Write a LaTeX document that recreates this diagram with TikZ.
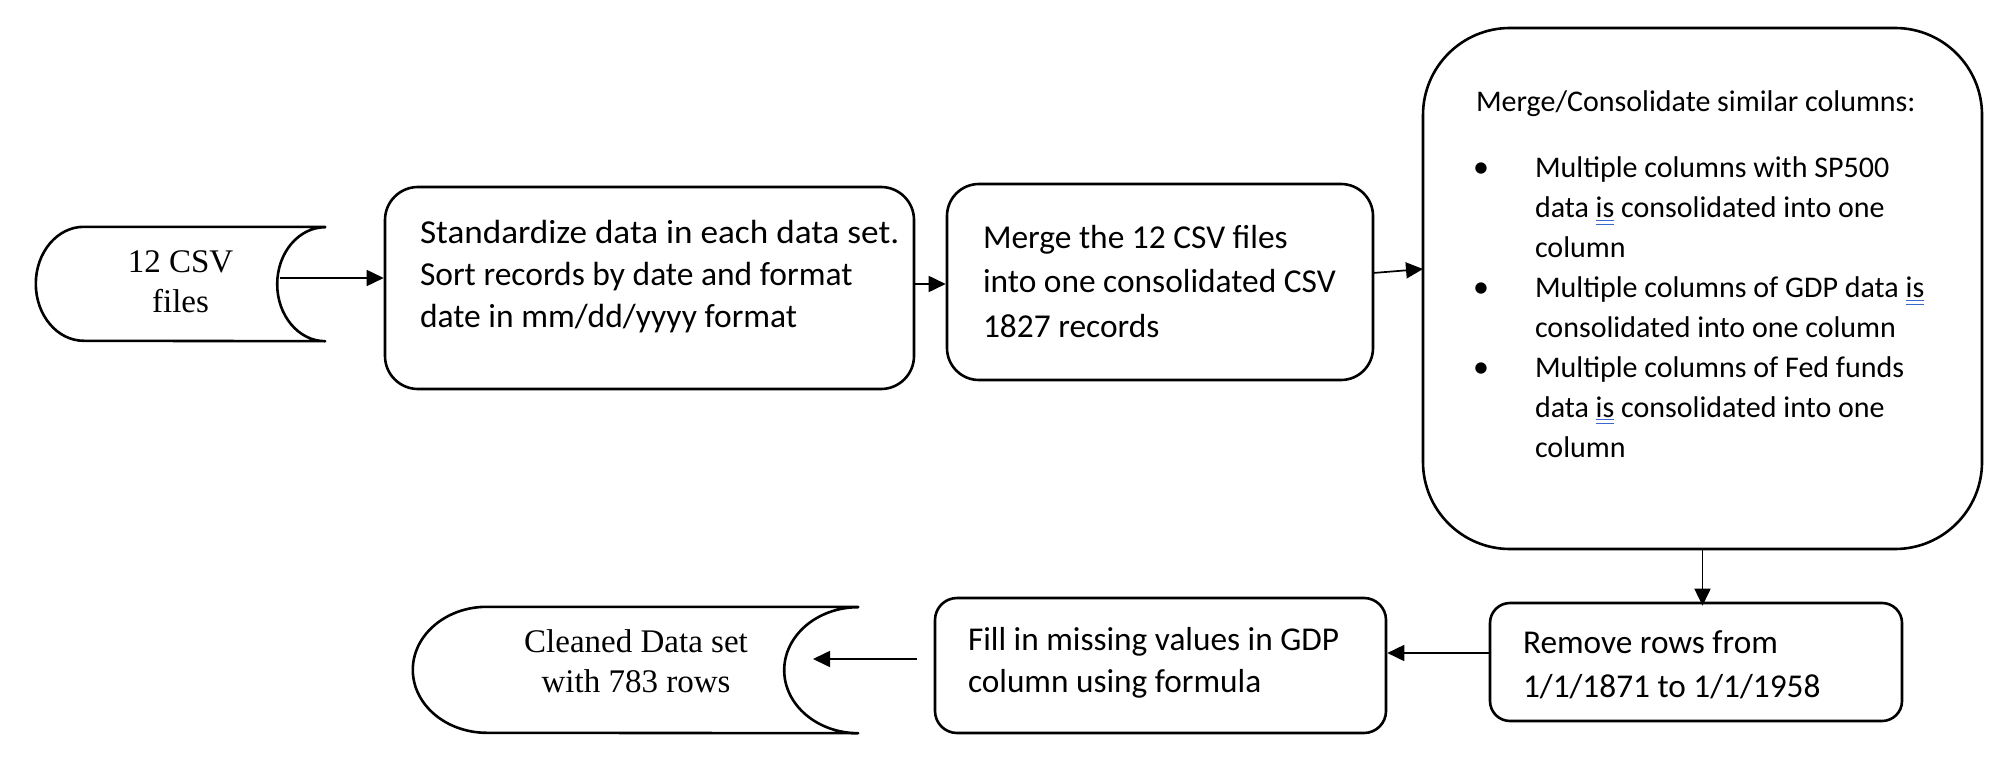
\documentclass[tikz,border=0pt]{standalone}
\usepackage{fontspec}
\usepackage{graphicx}
\setmainfont{Carlito}
\newfontfamily\tnr{Liberation Serif}
\usetikzlibrary{arrows.meta,calc}
\definecolor{ulblue}{HTML}{3A66D1}
\newcommand\gramul[1]{\setbox0\hbox{#1}\rlap{\color{ulblue}\rule[-3pt]{\wd0}{1.1pt}}\rlap{\color{ulblue}\rule[-7pt]{\wd0}{1.1pt}}\box0\relax}
\newcommand\leftlines[3]{\vtop{\fontsize{#1}{#2}\selectfont\halign{##\hfil\cr#3\crcr}}}
\newcommand\midlines[3]{\vtop{\tnr\fontsize{#1}{#2}\selectfont\halign{\hfil##\hfil\cr#3\crcr}}}
\tikzset{
  outline/.style={draw=black, line width=2.6pt, line join=round},
  stepbox/.style={outline, rectangle, inner sep=0pt},
  frame/.style={rectangle, inner sep=0pt, draw=none},
  txt/.style={inner sep=0pt, outer sep=0pt, anchor=base west},
  ctxt/.style={inner sep=0pt, outer sep=0pt, anchor=base},
  conn/.style={line width=1.7pt, -{Triangle[length=17pt,width=16pt]}},
}
\begin{document}
\begin{tikzpicture}[x=1pt,y=-1pt]
\fill[white] (0,0) rectangle (1996,778);
\useasboundingbox (0,0) rectangle (1996,778);

% stored-data shapes
\node[frame, minimum width=289pt, minimum height=114pt] (c1) at (180.5,284) {};
\draw[outline] (c1.north east) -- ([xshift=48pt]c1.north west)
  arc[start angle=270, end angle=90, x radius=48, y radius=57]
  -- (c1.south east)
  arc[start angle=90, end angle=270, x radius=48, y radius=57] -- cycle;
\node[frame, minimum width=445pt, minimum height=126pt] (c2) at (635.5,670) {};
\draw[outline] (c2.north east) -- ([xshift=74pt]c2.north west)
  arc[start angle=270, end angle=90, x radius=74, y radius=63]
  -- (c2.south east)
  arc[start angle=90, end angle=270, x radius=74, y radius=63] -- cycle;

% process boxes
\node[stepbox, rounded corners=33pt, minimum width=529pt, minimum height=202pt] (b2) at (649.5,288) {};
\node[stepbox, rounded corners=32pt, minimum width=426pt, minimum height=196pt] (b3) at (1160,282) {};
\node[stepbox, rounded corners=87pt, minimum width=559pt, minimum height=521pt] (big) at (1702.5,288.5) {};
\node[stepbox, rounded corners=20pt, minimum width=412pt, minimum height=118pt] (rm) at (1696,662) {};
\node[stepbox, rounded corners=22pt, minimum width=451pt, minimum height=135pt] (fl) at (1160.5,665.5) {};

% texts
\node[ctxt] (c1t) at (180.5,272) {\midlines{33pt}{40pt}{12 CSV\cr files}};
\node[ctxt] (c2t) at (636,652) {\midlines{33pt}{40pt}{Cleaned Data set\cr with 783 rows}};
\node[txt] (b2t) at (420,243) {\leftlines{33.5pt}{42.5pt}{\scalebox{1.05}[1]{Standardize data in each data set.}\cr Sort records by date and format\cr date in mm/dd/yyyy format}};
\node[txt] (b3t) at (983,248) {\leftlines{33.4pt}{44.5pt}{Merge the 12 CSV files\cr into one consolidated CSV\cr 1827 records}};
\node[txt] (bigt) at (1476,112) {\fontsize{30pt}{40pt}\selectfont Merge/Consolidate similar columns:};
\node[txt] (bigl) at (1535,178) {\leftlines{30pt}{39.9pt}{Multiple columns with SP500\cr
data \gramul{is} consolidated into one\cr
column\cr
Multiple columns of GDP data \gramul{is}\cr
consolidated into one column\cr
Multiple columns of Fed funds\cr
data \gramul{is} consolidated into one\cr
column}};
\node[txt] (bu1) at (1473,178) {\fontsize{32pt}{40pt}\selectfont •};
\node[txt] (bu2) at (1473,297.7) {\fontsize{32pt}{40pt}\selectfont •};
\node[txt] (bu3) at (1473,377.5) {\fontsize{32pt}{40pt}\selectfont •};
\node[txt] (rmt) at (1523,653) {\leftlines{33.3pt}{44pt}{Remove rows from\cr 1/1/1871 to 1/1/1958}};
\node[txt] (flt) at (968,650) {\leftlines{33.3pt}{42pt}{Fill in missing values in GDP\cr column using formula}};

% connectors
\coordinate (a1) at (280,278);
\draw[conn] (a1) -- (a1 -| b2.west);
\coordinate (a2) at (914,284);
\draw[conn] (a2) -- (a2 -| b3.west);
\coordinate (a3s) at (1373,273);
\coordinate (a3e) at (1423,269);
\draw[conn] (a3s) -- (a3e);
\draw[conn, shorten >=-4pt] (big.south) -- (big.south |- rm.north);
\coordinate (a5) at (1490,653);
\draw[conn] (a5) -- (a5 -| fl.east);
\coordinate (a6s) at (917,659);
\coordinate (a6e) at (813,659);
\draw[conn] (a6s) -- (a6e);
\end{tikzpicture}
\end{document}
